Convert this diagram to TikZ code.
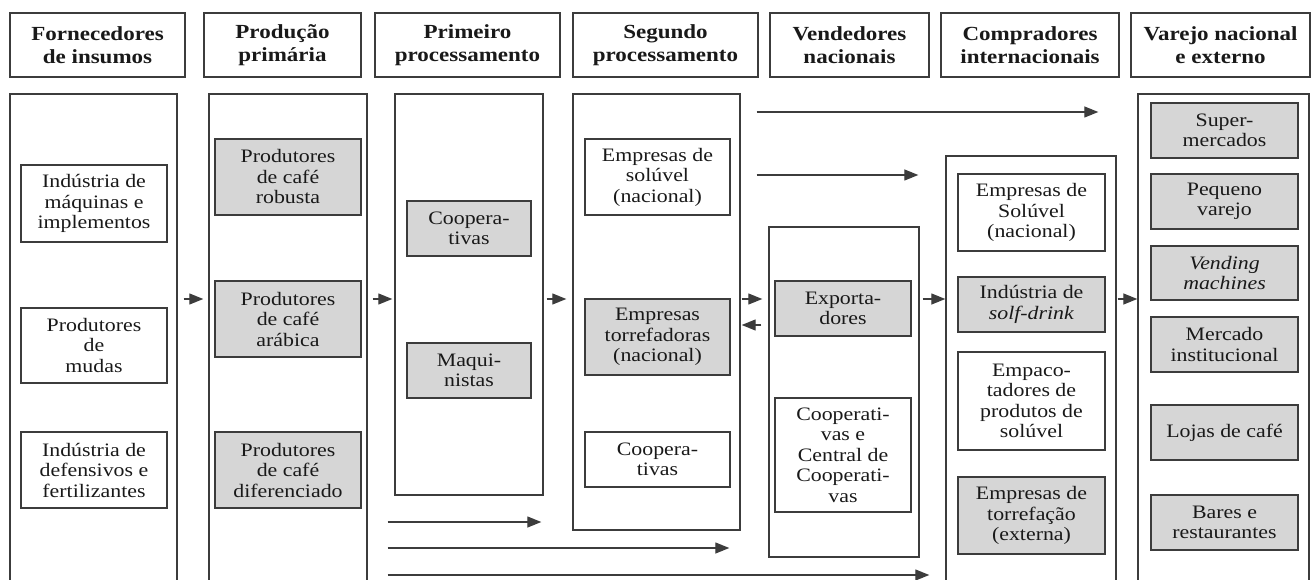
\documentclass[tikz,border=0pt]{standalone}
\usepackage{fontspec}
\setmainfont{Liberation Serif}[FakeStretch=1.15]
\usetikzlibrary{arrows.meta}
\definecolor{linec}{HTML}{3C3C3C}
\definecolor{boxgray}{HTML}{D6D6D6}
\newcommand{\bodyfnt}{\fontsize{19}{20.5}\selectfont}
\newcommand{\headfnt}{\fontsize{20}{22.4}\selectfont\bfseries}
\tikzset{
  hdrbox/.style={draw=linec, line width=1.4, minimum height=64, inner sep=0,
    align=center, font=\headfnt, text=black!90},
  column/.style={draw=linec, line width=1.4, inner sep=0},
  entry/.style={draw=linec, line width=1.3, inner sep=0, align=center,
    font=\bodyfnt, text=black!90},
  shaded/.style={entry, fill=boxgray},
  flowarrow/.style={draw=linec, line width=1.3, -{Triangle[length=14,width=11]}}
}

\begin{document}
\begin{tikzpicture}[x=1pt, y=-1pt]
\useasboundingbox (0,0) rectangle (1312,580);
\clip (0,0) rectangle (1312,580);

% headers
\node[hdrbox, minimum width=175] (hdr1) at (97.5,45) {Fornecedores\\de insumos};
\node[hdrbox, minimum width=157] (hdr2) at (282.5,45) {Produção\\primária};
\node[hdrbox, minimum width=185] (hdr3) at (467.5,45) {Primeiro\\processamento};
\node[hdrbox, minimum width=185] (hdr4) at (665.5,45) {Segundo\\processamento};
\node[hdrbox, minimum width=159] (hdr5) at (849.5,45) {Vendedores\\nacionais};
\node[hdrbox, minimum width=178] (hdr6) at (1030,45) {Compradores\\internacionais};
\node[hdrbox, minimum width=179] (hdr7) at (1220.5,45) {Varejo nacional\\e externo};

% columns
\node[column, minimum width=167, minimum height=506] (col1) at (93.5,347) {};
\node[column, minimum width=158, minimum height=506] (col2) at (288,347) {};
\node[column, minimum width=148, minimum height=401] (col3) at (469,294.5) {};
\node[column, minimum width=167, minimum height=436] (col4) at (656.5,312) {};
\node[column, minimum width=150, minimum height=330] (col5) at (844,392) {};
\node[column, minimum width=170, minimum height=444] (col6) at (1031,378) {};
\node[column, minimum width=171, minimum height=506] (col7) at (1223.5,347) {};

% fornecedores
\node[entry, minimum width=146, minimum height=77] (maquinas) at (94,203.5)
  {Indústria de\\máquinas e\\implementos};
\node[entry, minimum width=146, minimum height=75] (mudas) at (94,345.5)
  {Produtores\\de\\mudas};
\node[entry, minimum width=146, minimum height=76] (defensivos) at (94,470)
  {Indústria de\\defensivos e\\fertilizantes};

% producao
\node[shaded, minimum width=146, minimum height=76] (robusta) at (288,177)
  {Produtores\\de café\\robusta};
\node[shaded, minimum width=146, minimum height=76] (arabica) at (288,319)
  {Produtores\\de café\\arábica};
\node[shaded, minimum width=146, minimum height=76] (diferenciado) at (288,470)
  {Produtores\\de café\\diferenciado};

% primeiro processamento
\node[shaded, minimum width=124, minimum height=55] (coopprim) at (469,228.5)
  {Coopera-\\tivas};
\node[shaded, minimum width=124, minimum height=55] (maquinistas) at (469,370.5)
  {Maqui-\\nistas};

% segundo processamento
\node[entry, minimum width=145, minimum height=76] (soluvel) at (657.5,177)
  {Empresas de\\solúvel\\(nacional)};
\node[shaded, minimum width=145, minimum height=76] (torrefadoras) at (657.5,337)
  {Empresas\\torrefadoras\\(nacional)};
\node[entry, minimum width=145, minimum height=55] (coopseg) at (657.5,459.5)
  {Coopera-\\tivas};

% vendedores
\node[shaded, minimum width=136, minimum height=55] (exportadores) at (843,308.5)
  {Exporta-\\dores};
\node[entry, minimum width=136, minimum height=114] (central) at (843,455)
  {Cooperati-\\vas e\\Central de\\Cooperati-\\vas};

% compradores
\node[entry, minimum width=147, minimum height=77] (soluvelint) at (1031.5,212.5)
  {Empresas de\\Solúvel\\(nacional)};
\node[shaded, minimum width=147, minimum height=55] (softdrink) at (1031.5,304.5)
  {Indústria de\\\textit{solf-drink}};
\node[entry, minimum width=147, minimum height=98] (empacotadores) at (1031.5,401)
  {Empaco-\\tadores de\\produtos de\\solúvel};
\node[shaded, minimum width=147, minimum height=77] (torrefacao) at (1031.5,515.5)
  {Empresas de\\torrefação\\(externa)};

% varejo
\node[shaded, minimum width=147, minimum height=55] (super) at (1224.5,130.5)
  {Super-\\mercados};
\node[shaded, minimum width=147, minimum height=55] (pequeno) at (1224.5,201.5)
  {Pequeno\\varejo};
\node[shaded, minimum width=147, minimum height=54] (vending) at (1224.5,273)
  {\textit{Vending}\\\textit{machines}};
\node[shaded, minimum width=147, minimum height=55] (mercado) at (1224.5,344.5)
  {Mercado\\institucional};
\node[shaded, minimum width=147, minimum height=55] (lojas) at (1224.5,432.5)
  {Lojas de café};
\node[shaded, minimum width=147, minimum height=55] (bares) at (1224.5,522.5)
  {Bares e\\restaurantes};

% rows of the arrows
\coordinate (mid) at (0,299);
\coordinate (back) at (0,325);
\coordinate (top1) at (0,112);
\coordinate (top2) at (0,175);
\coordinate (low1) at (0,522);
\coordinate (low2) at (0,548);
\coordinate (low3) at (0,575);

\draw[flowarrow] ([xshift=6]col1.east |- mid) -- ([xshift=-5]col2.west |- mid);
\draw[flowarrow] ([xshift=5]col2.east |- mid) -- ([xshift=-2]col3.west |- mid);
\draw[flowarrow] ([xshift=3]col3.east |- mid) -- ([xshift=-6]col4.west |- mid);
\draw[flowarrow] ([xshift=1]col4.east |- mid) -- ([xshift=-6]col5.west |- mid);
\draw[flowarrow] ([xshift=-7]col5.west |- back) -- ([xshift=1]col4.east |- back);
\draw[flowarrow] ([xshift=3]col5.east |- mid) -- (col6.west |- mid);
\draw[flowarrow] ([xshift=1]col6.east |- mid) -- (col7.west |- mid);

\draw[flowarrow] ([xshift=16]col4.east |- top1) -- ([xshift=-39]col7.west |- top1);
\draw[flowarrow] ([xshift=16]col4.east |- top2) -- ([xshift=-27]col6.west |- top2);

\draw[flowarrow] ([xshift=20]col2.east |- low1) -- ([xshift=-31]col4.west |- low1);
\draw[flowarrow] ([xshift=20]col2.east |- low2) -- ([xshift=-39]col5.west |- low2);
\draw[flowarrow] ([xshift=20]col2.east |- low3) -- ([xshift=-16]col6.west |- low3);
\end{tikzpicture}
\end{document}
